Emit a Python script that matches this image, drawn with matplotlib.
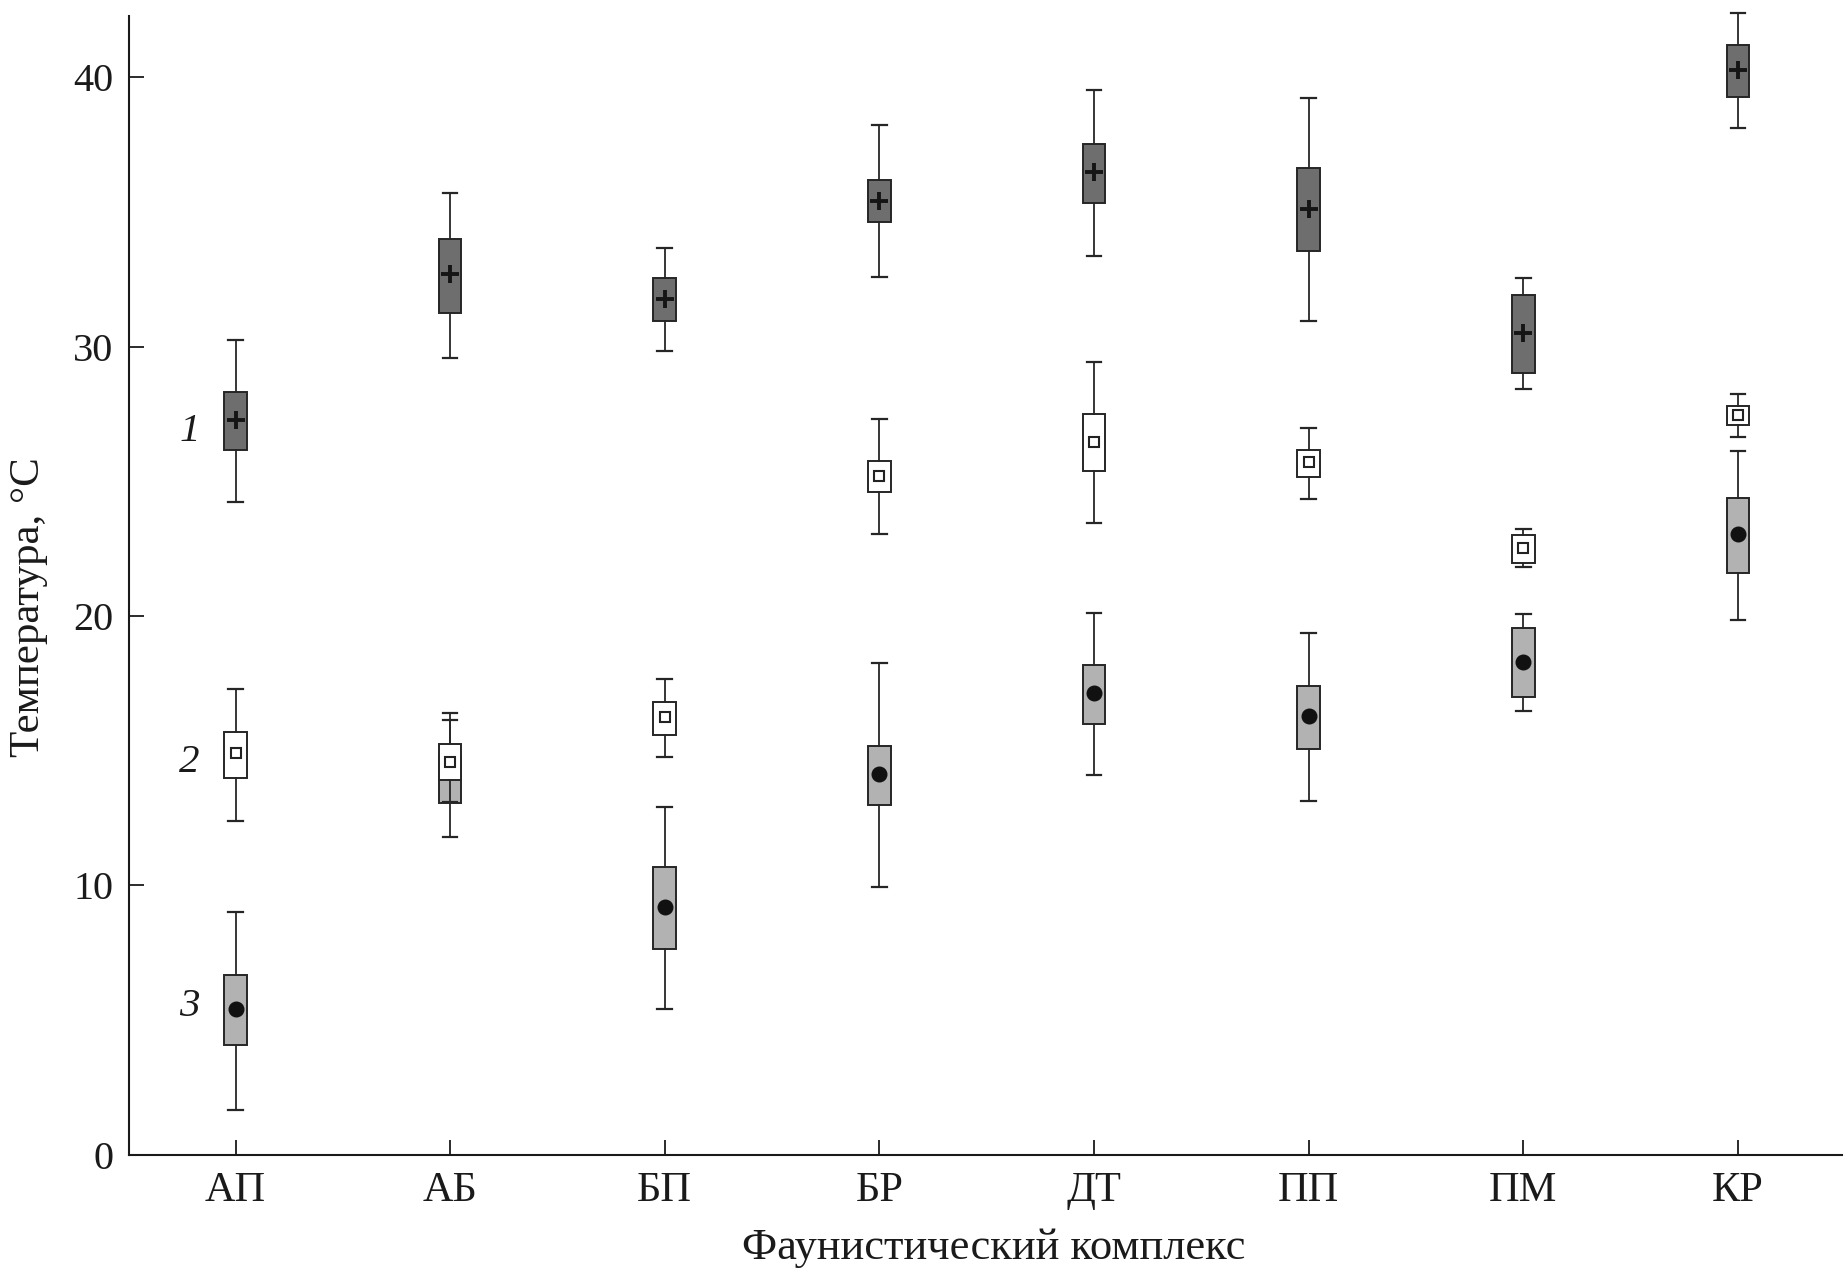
import numpy as np
import matplotlib.pyplot as plt

plt.rcParams['font.family'] = ['Liberation Serif', 'DejaVu Serif']

categories = ['АП', 'АБ', 'БП', 'БР', 'ДТ', 'ПП', 'ПМ', 'КР']

# 1 - upper series (dark boxes, "+")
lo1 = [24.24, 29.58, 29.86, 32.61, 33.36, 30.97, 28.44, 38.12]
q1_1 = [26.17, 31.26, 30.97, 34.64, 35.35, 33.54, 29.02, 39.28]
mid1 = [27.27, 32.70, 31.78, 35.43, 36.50, 35.13, 30.53, 40.26]
q3_1 = [28.33, 34.02, 32.56, 36.19, 37.53, 36.65, 31.92, 41.22]
hi1 = [30.27, 35.71, 33.66, 38.23, 39.53, 39.22, 32.55, 42.38]

# 2 - middle series (white boxes, open square)
lo2 = [12.40, 13.10, 14.78, 23.05, 23.46, 24.34, 21.81, 26.64]
q1_2 = [14.00, 13.90, 15.58, 24.62, 25.39, 25.16, 21.99, 27.10]
mid2 = [14.90, 14.60, 16.24, 25.20, 26.48, 25.73, 22.54, 27.46]
q3_2 = [15.70, 15.25, 16.80, 25.76, 27.52, 26.18, 23.02, 27.81]
hi2 = [17.30, 16.40, 17.66, 27.32, 29.44, 26.98, 23.22, 28.26]

# 3 - lower series (light boxes, filled dot)
lo3 = [1.68, 11.80, 5.43, 9.95, 14.09, 13.15, 16.48, 19.84]
q1_3 = [4.08, 13.07, 7.63, 12.97, 16.01, 15.07, 17.01, 21.61]
mid3 = [5.40, 14.20, 9.20, 14.12, 17.16, 16.29, 18.29, 23.04]
q3_3 = [6.66, 14.80, 10.69, 15.19, 18.19, 17.42, 19.55, 24.40]
hi3 = [9.00, 16.15, 12.92, 18.26, 20.13, 19.38, 20.08, 26.14]

series_labels = ['1', '2', '3']


def make_stats(lo, q1, mid, q3, hi):
    stats = []
    for i in range(len(lo)):
        stats.append({'whislo': lo[i], 'q1': q1[i], 'med': mid[i], 'mean': mid[i],
                      'q3': q3[i], 'whishi': hi[i], 'fliers': []})
    return stats


def draw_series(ax, stats, face, marker, msize, mface, medge, mew, z):
    pos = np.arange(len(stats))
    edge = '#262626'
    art = ax.bxp(stats, positions=pos, widths=0.105, capwidths=0.068,
                 patch_artist=True, showfliers=False, showmeans=True, meanline=False,
                 boxprops=dict(facecolor=face, edgecolor=edge, linewidth=1.4),
                 whiskerprops=dict(color=edge, linewidth=1.3),
                 capprops=dict(color=edge, linewidth=1.6),
                 medianprops=dict(visible=False),
                 meanprops=dict(marker=marker, markersize=msize, markerfacecolor=mface,
                                markeredgecolor=medge, markeredgewidth=mew, linestyle='none'),
                 manage_ticks=False)
    for key in art:
        for a in art[key]:
            a.set_zorder(z)
            a.set_clip_on(False)
    for a in art['means']:
        a.set_zorder(z + 0.5)


fig = plt.figure(figsize=(18.44, 12.74), dpi=100)
ax = fig.add_axes([0.0701, 0.0936, 0.9288, 0.8942])

draw_series(ax, make_stats(lo3, q1_3, mid3, q3_3, hi3), '#b2b2b2', 'o', 10.5, '#111111', '#111111', 1.0, 2)
draw_series(ax, make_stats(lo2, q1_2, mid2, q3_2, hi2), 'white', 's', 7.5, 'white', '#222222', 1.5, 3)
draw_series(ax, make_stats(lo1, q1_1, mid1, q3_1, hi1), '#6e6e6e', '+', 13, '#151515', '#151515', 2.8, 4)

ax.set_xlim(-0.495, 7.485)
ax.set_ylim(0, 42.3)
ax.set_xticks(np.arange(len(categories)))
ax.set_xticklabels(categories)
ax.set_yticks([0, 10, 20, 30, 40])

for s in ['top', 'right']:
    ax.spines[s].set_visible(False)
for s in ['left', 'bottom']:
    ax.spines[s].set_linewidth(1.5)
    ax.spines[s].set_color('#1a1a1a')

ax.tick_params(axis='both', direction='in', length=10.5, width=1.3, colors='#1a1a1a',
               labelcolor='#1a1a1a')
ax.tick_params(axis='x', pad=12, labelsize=30.5)
ax.tick_params(axis='y', pad=11.5, labelsize=29)

# series numbers next to the first group
label_y = [26.85, 14.55, 5.5]
for lab, yv in zip(series_labels, label_y):
    ax.text(-0.215, yv, lab, fontsize=29.5, style='italic', ha='center', va='center',
            color='#1a1a1a')

ax.set_xlabel('Фаунистический комплекс', fontsize=32, color='#1a1a1a')
ax.set_ylabel('Температура, °C', fontsize=31, color='#1a1a1a')
ax.xaxis.set_label_coords(0.505, -0.0818)
ax.xaxis.label.set_va('center')
ax.yaxis.set_label_coords(-0.0586, 0.4808)
ax.yaxis.label.set_va('center')

fig.savefig('out.png', dpi=100)
